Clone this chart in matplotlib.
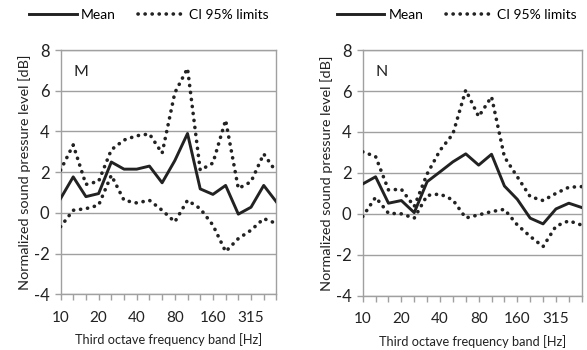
import matplotlib
matplotlib.use('Agg')
import matplotlib.pyplot as plt

plt.rcParams['font.family'] = ['Lato', 'DejaVu Sans']
plt.rcParams['axes.unicode_minus'] = False

# third octave bands 10 Hz .. 500 Hz
bands = ['10', '12.5', '16', '20', '25', '31.5', '40', '50', '63', '80',
         '100', '125', '160', '200', '250', '315', '400', '500']
tick_labels = ['10', '20', '40', '80', '160', '315']

# panel M
m_mean = [0.7, 1.77, 0.8, 0.95, 2.5, 2.15, 2.15, 2.3, 1.48, 2.57,
          3.9, 1.18, 0.91, 1.35, -0.06, 0.28, 1.35, 0.54]
m_upper = [2.1, 3.34, 1.4, 1.55, 3.1, 3.58, 3.79, 3.88, 2.93, 5.9,
           7.1, 2.1, 2.45, 4.56, 1.2, 1.53, 2.9, 2.0]
m_lower = [-0.68, 0.13, 0.21, 0.38, 1.85, 0.62, 0.49, 0.62, 0.13, -0.44,
           0.62, 0.21, -0.6, -1.9, -1.26, -0.85, -0.28, -0.52]

# panel N
n_mean = [1.46, 1.81, 0.52, 0.65, 0.06, 1.57, 2.05, 2.54, 2.93, 2.38,
          2.91, 1.36, 0.71, -0.21, -0.49, 0.24, 0.52, 0.31]
n_upper = [3.03, 2.8, 1.17, 1.2, 0.36, 1.95, 3.1, 3.9, 6.05, 4.75,
           5.72, 2.78, 1.81, 0.84, 0.65, 1.0, 1.3, 1.33]
n_lower = [-0.13, 0.81, 0.03, 0.0, -0.21, 0.9, 0.97, 0.68, -0.2, -0.05,
           0.11, 0.22, -0.54, -1.1, -1.6, -0.6, -0.34, -0.55]

fig = plt.figure(figsize=(5.87, 3.5), dpi=100)
ax1 = fig.add_axes([0.1031, 0.159, 0.3678, 0.698])
ax2 = fig.add_axes([0.6179, 0.155, 0.3731, 0.702])

grey = '#a0a0a0'
dots = (0, (0.05, 1.9))

def draw(ax, mean, upper, lower, tag, leg_x):
    x = range(len(bands))
    ax.plot(x, mean, color='#222222', lw=2.1, label='Mean', zorder=3)
    ax.plot(x, upper, color='#222222', lw=2.6, linestyle=dots,
            dash_capstyle='round', label='CI 95% limits', zorder=3)
    ax.plot(x, lower, color='#222222', lw=2.6, linestyle=dots,
            dash_capstyle='round', zorder=3)
    ax.set_xlim(0, len(bands) - 1)
    ax.set_ylim(-4, 8)
    ax.set_yticks(range(-4, 9, 2))
    ax.set_xticks(list(x))
    ax.set_xticklabels([b if b in tick_labels else '' for b in bands])
    ax.grid(axis='y', color=grey, lw=1.0)
    ax.set_axisbelow(True)
    for s in ax.spines.values():
        s.set_color(grey)
        s.set_linewidth(1.0)
    ax.tick_params(axis='both', colors=grey, labelcolor='#222222',
                   length=4, width=1.0)
    ax.tick_params(axis='x', labelsize=11, pad=8)
    ax.tick_params(axis='y', labelsize=12, pad=4)
    ax.set_xlabel('Third octave frequency band [Hz]', fontsize=9.2,
                  color='#222222', labelpad=6)
    ax.set_ylabel('Normalized sound pressure level [dB]', fontsize=10.4,
                  color='#222222', labelpad=2)
    ax.text(0.06, 0.91, tag, transform=ax.transAxes, fontsize=11.5,
            va='center', color='#222222')
    ax.legend(loc='center', bbox_to_anchor=(leg_x, 1.143), ncol=2,
              frameon=False, fontsize=10, handlelength=3.4,
              columnspacing=1.6, handletextpad=0.3)

draw(ax1, m_mean, m_upper, m_lower, 'M', 0.41)
draw(ax2, n_mean, n_upper, n_lower, 'N', 0.43)

fig.savefig('out.png', dpi=100)
